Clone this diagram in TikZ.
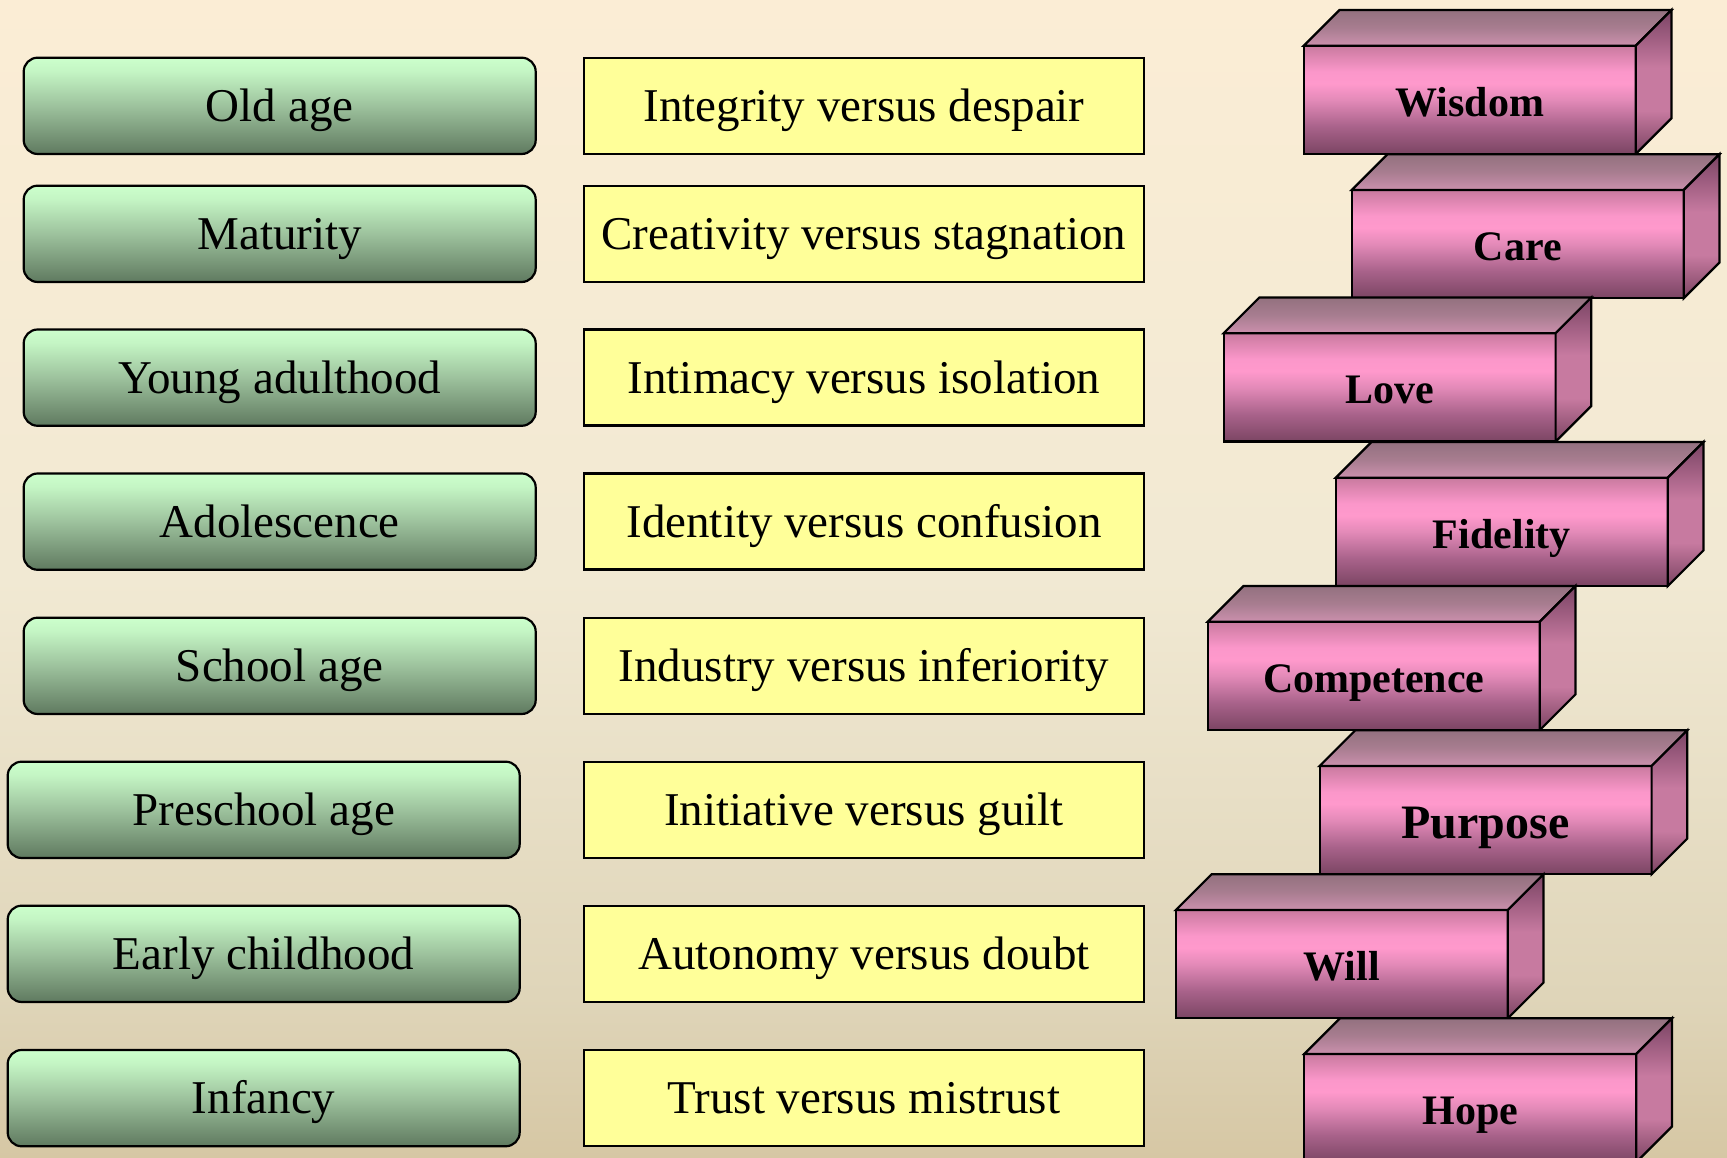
\documentclass[tikz,border=0pt]{standalone}
\usepackage{fontspec}
\setmainfont{Liberation Serif}
\definecolor{bgtop}{HTML}{FBEDD5}
\definecolor{bgmid}{HTML}{F1E9D3}
\definecolor{bglow}{HTML}{DFD5B9}
\definecolor{bgbot}{HTML}{D6C7A4}
\definecolor{grA}{HTML}{CCFFCC}
\definecolor{grB}{HTML}{C4F5C4}
\definecolor{grC}{HTML}{9DC29D}
\definecolor{grD}{HTML}{6C886C}
\definecolor{grE}{HTML}{5F7A60}
\definecolor{pfA}{HTML}{C97A9F}
\definecolor{pfB}{HTML}{FB97CA}
\definecolor{pfC}{HTML}{FF99CC}
\definecolor{pfD}{HTML}{E38AB8}
\definecolor{pfE}{HTML}{A8628A}
\definecolor{pfF}{HTML}{7B4563}
\definecolor{ptA}{HTML}{93717F}
\definecolor{ptB}{HTML}{A87D90}
\definecolor{ptC}{HTML}{CB90AD}
\definecolor{psA}{HTML}{7A4464}
\definecolor{psB}{HTML}{C77AA0}
\definecolor{psC}{HTML}{7B4462}
\definecolor{yell}{HTML}{FFFF99}
\pgfdeclareverticalshading{bgshade}{100bp}{color(0bp)=(bgbot); color(25bp)=(bgbot); color(32bp)=(bglow); color(50bp)=(bgmid); color(75bp)=(bgtop); color(100bp)=(bgtop)}
\pgfdeclareverticalshading{greenshade}{100bp}{color(0bp)=(grE); color(25bp)=(grE); color(30bp)=(grD); color(50bp)=(grC); color(68bp)=(grB); color(75bp)=(grA); color(100bp)=(grA)}
\pgfdeclareverticalshading{pfrontshade}{100bp}{color(0bp)=(pfF); color(25bp)=(pfF); color(37.5bp)=(pfE); color(50bp)=(pfD); color(57.5bp)=(pfC); color(63bp)=(pfB); color(75bp)=(pfA); color(100bp)=(pfA)}
\pgfdeclareverticalshading{ptopshade}{100bp}{color(0bp)=(ptC); color(25bp)=(ptC); color(50bp)=(ptB); color(75bp)=(ptA); color(100bp)=(ptA)}
\pgfdeclareverticalshading{psideshade}{100bp}{color(0bp)=(psC); color(25bp)=(psC); color(40bp)=(psB); color(55bp)=(psB); color(75bp)=(psA); color(100bp)=(psA)}
\tikzset{
  stagebox/.style={draw=black, line width=2.2pt, rounded corners=14pt, shade, shading=greenshade,
    minimum width=512pt, minimum height=96.3pt, inner sep=0pt, outer sep=0pt, anchor=north west,
    font=\fontsize{47}{56}\selectfont, text height=34pt, text depth=2.4pt},
  crisisbox/.style={draw=black, line width=2.2pt, fill=yell,
    minimum width=560.6pt, minimum height=96pt, inner sep=0pt, outer sep=0pt, anchor=north west,
    font=\fontsize{47}{56}\selectfont, text height=34pt, text depth=2.4pt},
  pfront/.style={draw=black, line width=2.2pt, shade, shading=pfrontshade,
    minimum width=332pt, minimum height=108.3pt, inner sep=0pt, outer sep=0pt, anchor=north west,
    font=\fontsize{42}{50}\selectfont\bfseries, text height=34pt, text depth=1.3pt},
  bigvirtue/.style={font=\fontsize{48}{56}\selectfont\bfseries, text height=36pt, text depth=-0.6pt},
  ptop/.style={draw=black, line width=2.2pt, shade, shading=ptopshade},
  pside/.style={draw=black, line width=2.2pt, shade, shading=psideshade},
}
\newcommand\virtuebox[5][]{%
  \node[pfront,#1] (#2) at (#3,1158-#4) {#5};
  \path[ptop] (#2.north west) -- ++(35.7,35.7) -- ([shift={(35.7,35.7)}]#2.north east) -- (#2.north east) -- cycle;
  \path[pside] (#2.north east) -- ++(35.7,35.7) -- ([shift={(35.7,35.7)}]#2.south east) -- (#2.south east) -- cycle;
}
\begin{document}
\begin{tikzpicture}[x=1pt,y=1pt]
\path[shade, shading=bgshade] (0,0) rectangle (1727,1158);
\useasboundingbox (0,0) rectangle (1727,1158);
% stages
\node[stagebox] (s1) at (23.7,1158-57.7) {Old age};
\node[stagebox] (s2) at (23.7,1158-185.7) {Maturity};
\node[stagebox] (s3) at (23.7,1158-329.5) {Young adulthood};
\node[stagebox] (s4) at (23.7,1158-473.5) {Adolescence};
\node[stagebox] (s5) at (23.7,1158-617.7) {School age};
\node[stagebox] (s6) at (7.7,1158-761.7) {Preschool age};
\node[stagebox] (s7) at (7.7,1158-905.7) {Early childhood};
\node[stagebox] (s8) at (7.7,1158-1050) {Infancy};
% crises
\node[crisisbox] (c1) at (583.7,1158-57.7) {Integrity versus despair};
\node[crisisbox] (c2) at (583.7,1158-185.7) {Creativity versus stagnation};
\node[crisisbox] (c3) at (583.7,1158-329.5) {Intimacy versus isolation};
\node[crisisbox] (c4) at (583.7,1158-473.5) {Identity versus confusion};
\node[crisisbox] (c5) at (583.7,1158-617.7) {Industry versus inferiority};
\node[crisisbox] (c6) at (583.7,1158-761.7) {Initiative versus guilt};
\node[crisisbox] (c7) at (583.7,1158-905.7) {Autonomy versus doubt};
\node[crisisbox] (c8) at (583.7,1158-1050) {Trust versus mistrust};
% virtues
\virtuebox{v1}{1303.8}{45.7}{Wisdom}
\virtuebox{v2}{1351.7}{190}{Care}
\virtuebox{v3}{1223.6}{333.3}{Love}
\virtuebox{v4}{1335.8}{477.7}{Fidelity}
\virtuebox{v5}{1207.8}{621.7}{Competence}
\virtuebox[bigvirtue]{v6}{1319.6}{766}{Purpose}
\virtuebox{v7}{1175.8}{910}{Will}
\virtuebox{v8}{1304.2}{1054}{Hope}
\end{tikzpicture}
\end{document}
